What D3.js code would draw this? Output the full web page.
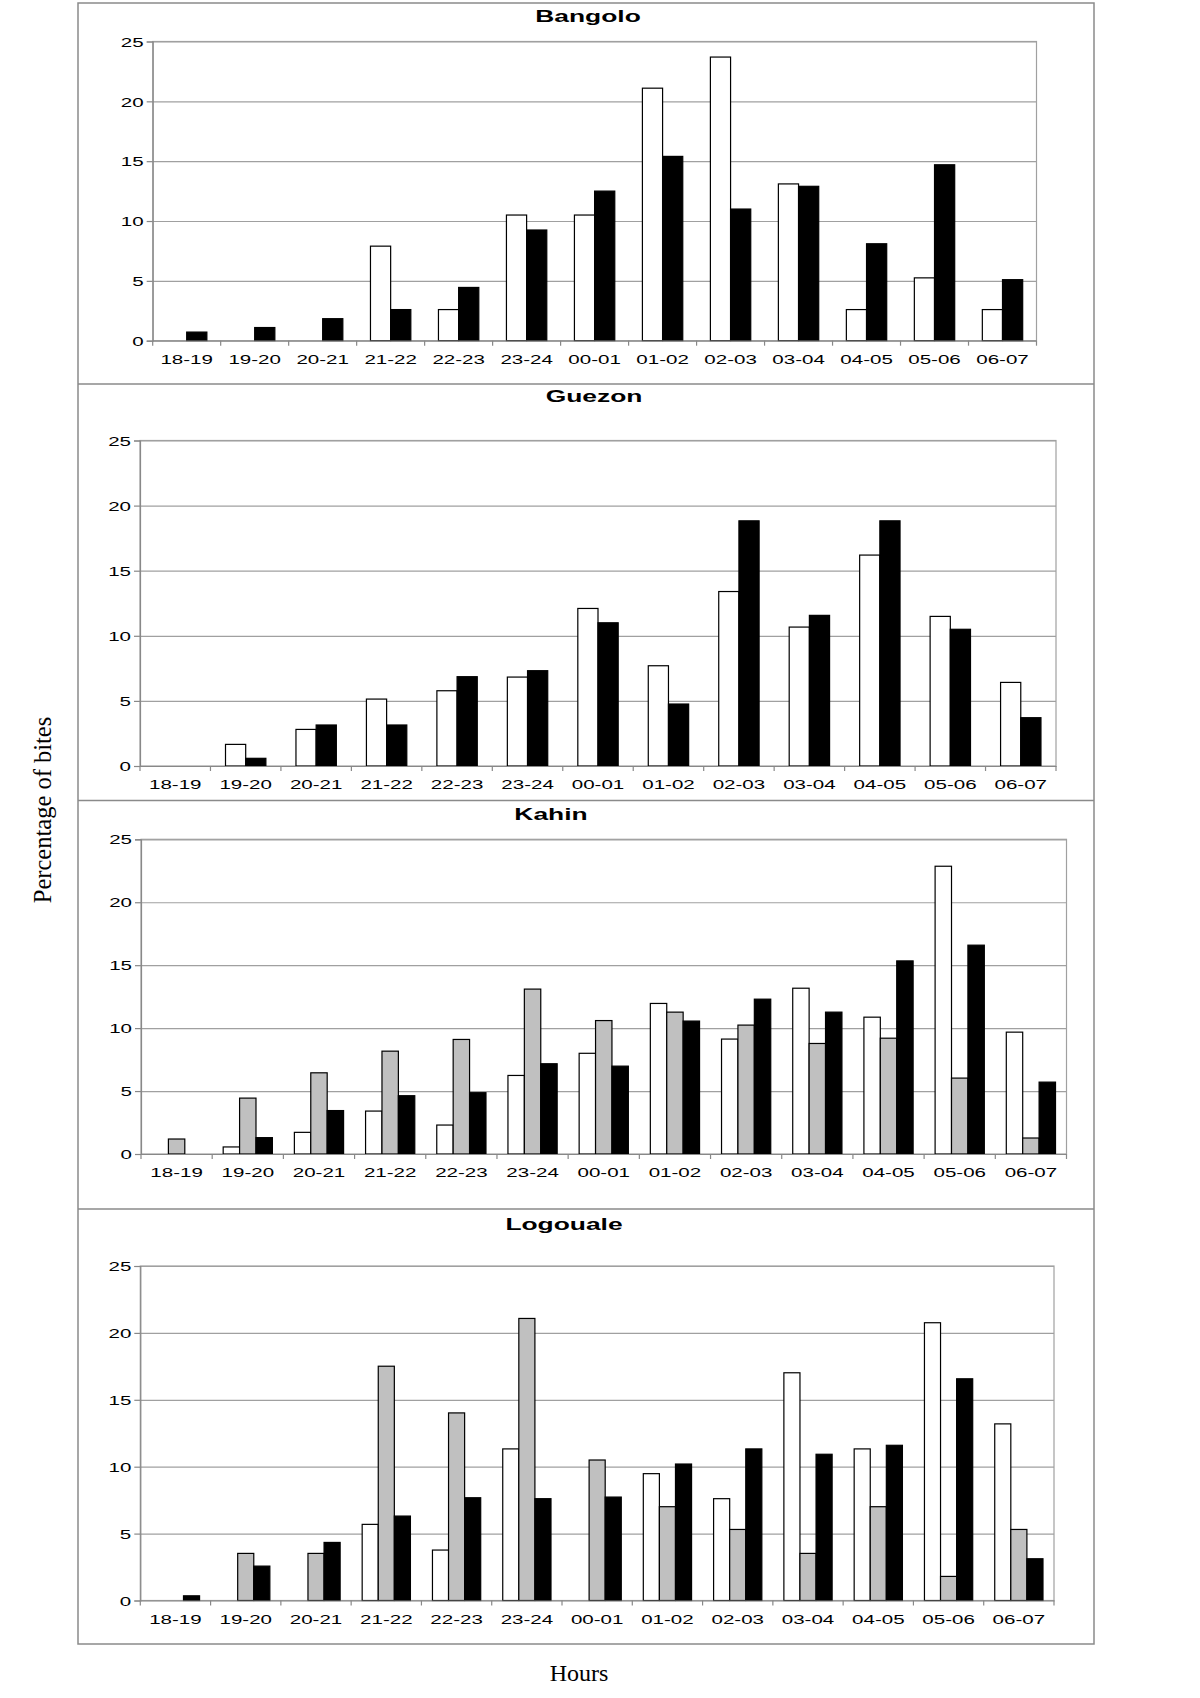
<!DOCTYPE html>
<html>
<head>
<meta charset="utf-8">
<script src="https://cdn.jsdelivr.net/npm/d3@7"></script>
<style>
  html, body { margin: 0; padding: 0; background: #fff; }
  svg { display: block; }
</style>
</head>
<body>
<script>
// ---------------- DATA ----------------
const hours = ["18-19","19-20","20-21","21-22","22-23","23-24","00-01","01-02","02-03","03-04","04-05","05-06","06-07"];
const yTicks = [0, 5, 10, 15, 20, 25];
const sites = ["Bangolo", "Guezon", "Kahin", "Logouale"];

const bangoloWhite = [0, 0, 0, 7.9, 2.6, 10.5, 10.5, 21.1, 23.7, 13.1, 2.6, 5.25, 2.6];
const bangoloBlack = [0.72, 1.1, 1.84, 2.6, 4.45, 9.25, 12.5, 15.4, 11.0, 12.9, 8.1, 14.7, 5.1];

const guezonWhite = [0, 1.66, 2.81, 5.14, 5.78, 6.83, 12.1, 7.7, 13.4, 10.67, 16.2, 11.49, 6.42];
const guezonBlack = [0, 0.59, 3.15, 3.15, 6.86, 7.32, 11.0, 4.76, 18.83, 11.57, 18.83, 10.5, 3.71];

const kahinWhite = [0, 0.56, 1.72, 3.41, 2.3, 6.24, 8.0, 11.96, 9.13, 13.17, 10.87, 22.86, 9.68];
const kahinGray  = [1.19, 4.44, 6.45, 8.17, 9.1, 13.1, 10.6, 11.27, 10.24, 8.78, 9.2, 6.03, 1.27];
const kahinBlack = [0, 1.3, 3.45, 4.63, 4.87, 7.17, 6.98, 10.56, 12.3, 11.27, 15.34, 16.59, 5.71];

const logoualeWhite = [0, 0, 0, 5.69, 3.77, 11.33, 0, 9.48, 7.61, 17.02, 11.33, 20.76, 13.2];
const logoualeGray  = [0, 3.52, 3.52, 17.51, 14.02, 21.08, 10.5, 7.01, 5.31, 3.52, 7.01, 1.8, 5.31];
const logoualeBlack = [0.35, 2.57, 4.34, 6.31, 7.68, 7.61, 7.73, 10.2, 11.33, 10.93, 11.6, 16.57, 3.12];

const yLabel = "Percentage of bites";
const xLabel = "Hours";

// ---------------- LAYOUT / STYLE ----------------
const W = 1200, H = 1698;
const fills = { white: "#ffffff", gray: "#c0c0c0", black: "#000000" };

const panels = [
  { title: sites[0], series: [{v: bangoloWhite, f: "white"}, {v: bangoloBlack, f: "black"}],
    x0: 152.7, x1: 1036.5, y0: 41.5, y1: 340.7, titleX: 588, titleY: 16.7, gap: 1.37 },
  { title: sites[1], series: [{v: guezonWhite, f: "white"}, {v: guezonBlack, f: "black"}],
    x0: 140, x1: 1056, y0: 440.5, y1: 766, titleX: 594, titleY: 396.7, gap: 1.49 },
  { title: sites[2], series: [{v: kahinWhite, f: "white"}, {v: kahinGray, f: "gray"}, {v: kahinBlack, f: "black"}],
    x0: 141, x1: 1066.5, y0: 839.3, y1: 1154, titleX: 551, titleY: 814, gap: 1.34 },
  { title: sites[3], series: [{v: logoualeWhite, f: "white"}, {v: logoualeGray, f: "gray"}, {v: logoualeBlack, f: "black"}],
    x0: 140.3, x1: 1054, y0: 1266, y1: 1600.5, titleX: 564, titleY: 1224.3, gap: 1.37 }
];

const svg = d3.select("body").append("svg")
  .attr("width", W).attr("height", H)
  .attr("viewBox", `0 0 ${W} ${H}`);

// outer frame and dividers
const frame = { x0: 78, x1: 1094, y0: 3, y1: 1644 };
svg.append("rect")
  .attr("x", frame.x0).attr("y", frame.y0)
  .attr("width", frame.x1 - frame.x0).attr("height", frame.y1 - frame.y0)
  .attr("fill", "none").attr("stroke", "#8a8a8a").attr("stroke-width", 1.5);
[384, 800.5, 1209].forEach(y => {
  svg.append("line").attr("x1", frame.x0).attr("x2", frame.x1).attr("y1", y).attr("y2", y)
    .attr("stroke", "#8a8a8a").attr("stroke-width", 1.5);
});

const sansFont = "'Liberation Sans', Arial, Helvetica, sans-serif";
const serifFont = "'Liberation Serif', 'Times New Roman', serif";
const textStretch = 1.58;

panels.forEach(p => {
  const g = svg.append("g");
  const x = d3.scaleBand().domain(hours).range([p.x0, p.x1]).paddingInner(0).paddingOuter(0);
  const y = d3.scaleLinear().domain([0, 25]).range([p.y1, p.y0]);
  const n = p.series.length;
  const bw = x.bandwidth() / (n + p.gap);
  const offset = (x.bandwidth() - n * bw) / 2;

  // plot border
  g.append("rect").attr("x", p.x0).attr("y", p.y0)
    .attr("width", p.x1 - p.x0).attr("height", p.y1 - p.y0)
    .attr("fill", "#fff").attr("stroke", "#a0a0a0").attr("stroke-width", 1.2);

  // gridlines
  const grid = g.append("g").attr("transform", `translate(${p.x0},0)`)
    .call(d3.axisLeft(y).tickValues(yTicks.slice(1)).tickSize(-(p.x1 - p.x0)).tickFormat(""));
  grid.select(".domain").remove();
  grid.selectAll(".tick line").attr("stroke", "#a0a0a0").attr("stroke-width", 1.2);

  // bars
  p.series.forEach((s, si) => {
    g.append("g").selectAll("rect").data(s.v.map((v, i) => ({ v, h: hours[i] })))
      .join("rect")
      .filter(d => d.v > 0)
      .attr("x", d => x(d.h) + offset + si * bw)
      .attr("y", d => y(d.v))
      .attr("width", bw)
      .attr("height", d => y(0) - y(d.v))
      .attr("fill", fills[s.f])
      .attr("stroke", "#000")
      .attr("stroke-width", 1.2);
  });

  // y axis
  const ya = g.append("g").attr("transform", `translate(${p.x0},0)`)
    .call(d3.axisLeft(y).tickValues(yTicks).tickSize(6).tickPadding(9));
  ya.select(".domain").attr("stroke", "#888").attr("stroke-width", 1.2);
  ya.selectAll(".tick line").attr("stroke", "#888").attr("stroke-width", 1.2);
  ya.selectAll(".tick text")
    .attr("x", null).attr("dy", "0.36em")
    .attr("transform", `translate(-9,0) scale(${textStretch},1)`)
    .attr("fill", "#000")
    .style("font-family", sansFont).style("font-size", "13px");

  // x axis (labels at band centres)
  const xa = g.append("g").attr("transform", `translate(0,${p.y1})`)
    .call(d3.axisBottom(x).tickSize(0).tickPadding(0));
  xa.select(".domain").attr("stroke", "#888").attr("stroke-width", 1.2);
  xa.selectAll(".tick text")
    .attr("y", null).attr("dy", null)
    .attr("transform", `translate(0,23) scale(${textStretch},1)`)
    .attr("fill", "#000")
    .style("font-family", sansFont).style("font-size", "13px");

  // boundary tick marks
  const bounds = hours.map(h => x(h)).concat([x.range()[1]]);
  g.append("g").selectAll("line").data(bounds).join("line")
    .attr("x1", d => d).attr("x2", d => d)
    .attr("y1", p.y1).attr("y2", p.y1 + 5)
    .attr("stroke", "#888").attr("stroke-width", 1.2);

  // title
  g.append("text")
    .attr("transform", `translate(${p.titleX},${p.titleY}) scale(1.65,1)`)
    .attr("text-anchor", "middle").attr("dy", "0.36em")
    .style("font-family", sansFont).style("font-size", "16px").style("font-weight", "bold")
    .text(p.title);
});

// axis titles
svg.append("text")
  .attr("transform", "translate(43,810) rotate(-90)")
  .attr("text-anchor", "middle").attr("dy", "0.33em")
  .style("font-family", serifFont).style("font-size", "24.5px")
  .text(yLabel);

svg.append("text")
  .attr("x", 579).attr("y", 1681)
  .attr("text-anchor", "middle")
  .style("font-family", serifFont).style("font-size", "24px")
  .text(xLabel);
</script>
</body>
</html>
